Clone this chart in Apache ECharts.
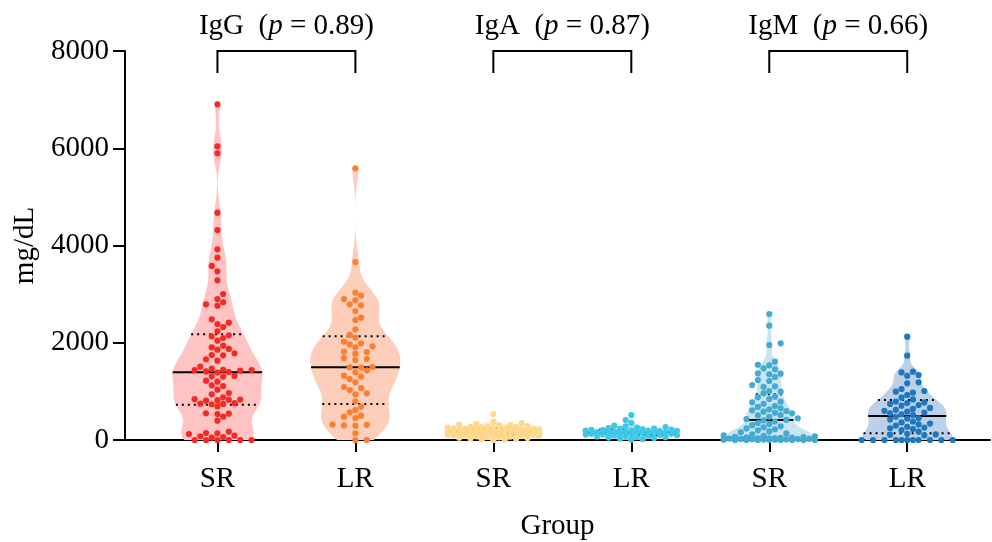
<!DOCTYPE html>
<html>
<head>
<meta charset="utf-8">
<script src="https://cdn.jsdelivr.net/npm/echarts@6/dist/echarts.min.js"></script>
<style>
  html, body { margin: 0; padding: 0; background: #fff; }
  #chart { width: 992px; height: 542px; }
</style>
</head>
<body>
<div id="chart"></div>
<script>
// categories along x (positions 1..6)
const groupLabels = ["SR", "LR", "SR", "LR", "SR", "LR"];
const groupPositions = [1, 2, 3, 4, 5, 6];
const isotypes = ["IgG", "IgA", "IgM"];
const pValues = ["0.89", "0.87", "0.66"];

// values (mg/dL)
const igG_SR = [6904, 6040, 5896, 4675, 4319, 3921, 3750, 3579, 3469, 3284, 3003, 2900, 2831, 2790, 2762,
  2482, 2413, 2386, 2324, 2235, 2153, 2132, 2098, 2043, 1940, 1906, 1872, 1858, 1783, 1748, 1741, 1659,
  1632, 1508, 1467, 1445, 1440, 1436, 1428, 1410, 1398, 1386, 1318, 1310, 1302, 1220, 1200, 1124, 1110,
  1035, 967, 940, 878, 840, 832, 828, 820, 808, 760, 748, 741, 735, 690, 549, 541, 535, 480, 397, 171,
  144, 137, 123, 89, 76, 62, 50, 0, 0, 0, 0, 0, 0];
const igG_LR = [5588, 3661, 3030, 2968, 2900, 2872, 2790, 2770, 2653, 2516, 2468, 2276, 2160, 2104, 2022,
  1988, 1968, 1927, 1906, 1816, 1810, 1775, 1686, 1666, 1645, 1501, 1496, 1487, 1433, 1392, 1323, 1302,
  1254, 1186, 1090, 1069, 1028, 960, 940, 796, 685, 617, 570, 500, 480, 452, 318, 312, 300, 294, 137, 0, 0];
const igA_SR = [535, 372, 345, 331, 318, 306, 297, 288, 281, 272, 268, 259, 253, 250, 242, 238, 236, 228,
  224, 221, 215, 212, 207, 204, 199, 197, 192, 188, 186, 181, 177, 175, 170, 166, 164, 159, 156, 152,
  150, 145, 141, 139, 134, 130, 127, 122, 118, 114, 109, 104, 99, 94, 88, 82, 77, 70, 63, 56, 48, 40,
  32, 24, 16, 8, 0];
const igA_LR = [514, 411, 350, 298, 281, 266, 254, 243, 236, 228, 221, 214, 208, 202, 197, 191, 186, 181,
  176, 171, 167, 162, 158, 153, 149, 145, 140, 136, 131, 127, 122, 117, 112, 106, 100, 94, 88, 81, 74,
  66, 58, 49, 40, 30, 18, 6];
const igM_SR = [2591, 2351, 1988, 1954, 1610, 1548, 1536, 1474, 1453, 1371, 1364, 1352, 1296, 1234, 1213,
  1131, 1104, 1092, 1008, 994, 960, 891, 880, 843, 788, 776, 745, 699, 680, 652, 630, 610, 596, 583, 560,
  549, 514, 505, 478, 446, 430, 415, 405, 380, 352, 331, 305, 281, 262, 238, 221, 198, 176, 157, 136,
  118, 98, 86, 74, 66, 62, 55, 51, 46, 41, 36, 33, 29, 24, 21, 18, 15, 12, 9, 6, 4, 2, 0, 0, 0, 0, 0, 0, 0];
const igM_LR = [2125, 1734, 1405, 1390, 1337, 1320, 1186, 1166, 1049, 1008, 994, 973, 925, 870, 835,
  790, 772, 760, 741, 720, 705, 660, 640, 620, 600, 585, 566, 548, 530, 512,
  478, 452, 440, 421, 380, 362, 338, 320, 296, 272, 255, 240, 226, 205, 172,
  128, 115, 108, 96, 0, 0, 0, 0, 0, 0, 0, 0, 0, 0, 0];

const groups = [igG_SR, igG_LR, igA_SR, igA_LR, igM_SR, igM_LR];
const fillColors = ["#FFC3C3", "#FDCFBA", "#FFF1D2", "#D2F0F8", "#C7E4EF", "#BCD0E9"];
const dotColors = ["#F42B24", "#FC7E2E", "#FFD98B", "#3CC8E6", "#45AAD2", "#1F77BE"];

const FONT = "Liberation Serif";
const FS = 29;
const HALF = 0.326; // max half width of a violin in x units
const BRACKET_TOP = 8000, BRACKET_LEG = 7550;

function quantile(s, p) {
  const n = s.length;
  const pos = (n + 1) * p - 1;
  const lo = Math.max(0, Math.min(n - 1, Math.floor(pos)));
  const hi = Math.min(n - 1, lo + 1);
  const f = Math.min(1, Math.max(0, pos - lo));
  return s[lo] + (s[hi] - s[lo]) * f;
}
function bandwidth(s) {
  const n = s.length;
  const mean = s.reduce((a, b) => a + b, 0) / n;
  const sd = Math.sqrt(s.reduce((a, b) => a + (b - mean) * (b - mean), 0) / (n - 1));
  const iqr = quantile(s, 0.75) - quantile(s, 0.25);
  return 0.9 * Math.min(sd, iqr / 1.34) * Math.pow(n, -0.2);
}

const stats = groups.map(vals => {
  const s = vals.slice().sort((a, b) => a - b);
  const h = bandwidth(s) * 0.65;
  const dens = v => s.reduce((acc, x) => acc + Math.exp(-0.5 * ((v - x) / h) * ((v - x) / h)), 0);
  const lo = s[0], hi = s[s.length - 1];
  const prof = [];
  for (let i = 0; i <= 160; i++) {
    const v = lo + (hi - lo) * i / 160;
    prof.push([v, dens(v)]);
  }
  const maxD = Math.max(...prof.map(p => p[1]));
  const q = [0.25, 0.5, 0.75].map(p => quantile(s, p));
  return { s, prof: prof.map(p => [p[0], p[1] / maxD]), q: q.map(v => [v, dens(v) / maxD]) };
});

function renderViolin(params, api) {
  const xc = api.value(0), i = xc - 1, st = stats[i];
  const right = st.prof.map(p => api.coord([xc + p[1] * HALF, p[0]]));
  const left = st.prof.map(p => api.coord([xc - p[1] * HALF, p[0]])).reverse();
  const children = [{ type: "polygon", shape: { points: right.concat(left) }, style: { fill: fillColors[i] } }];
  st.q.forEach((q, k) => {
    const a = api.coord([xc - q[1] * HALF, q[0]]);
    const b = api.coord([xc + q[1] * HALF, q[0]]);
    children.push({
      type: "line",
      shape: { x1: a[0], y1: a[1], x2: b[0], y2: b[1] },
      style: { stroke: "#000", lineWidth: 2, lineDash: k === 1 ? null : [2, 4] }
    });
  });
  return { type: "group", children };
}

// beeswarm in pixel space, dots on columns 5.7px apart
function renderDots(params, api) {
  const xc = api.value(0), i = xc - 1;
  const s = stats[i].s;
  const cx = api.coord([xc, 0])[0];
  const STEP = 5.7, D = 6.1, MAXW = 46;
  const placed = [];
  const children = [];
  s.forEach((v, n) => {
    const y = api.coord([xc, v])[1];
    let best = 0, bestGap = -1, found = false;
    for (let k = 0; k * STEP <= MAXW && !found; k++) {
      const offs = k === 0 ? [0] : (n % 2 ? [k * STEP, -k * STEP] : [-k * STEP, k * STEP]);
      for (const o of offs) {
        let gap = Infinity;
        for (const p of placed) {
          const dy = p[1] - y;
          if (Math.abs(dy) < D) {
            const dd = Math.hypot(p[0] - o, dy);
            if (dd < gap) gap = dd;
          }
        }
        if (gap >= D) { best = o; found = true; break; }
        if (gap > bestGap + 0.3) { bestGap = gap; best = o; }
      }
    }
    placed.push([best, y]);
    children.push({ type: "circle", shape: { cx: cx + best, cy: y, r: 3.1 }, style: { fill: dotColors[i] } });
  });
  return { type: "group", children };
}

function renderBracket(params, api) {
  const k = params.dataIndex;
  const a = api.coord([2 * k + 1, BRACKET_LEG]), b = api.coord([2 * k + 1, BRACKET_TOP]);
  const c = api.coord([2 * k + 2, BRACKET_TOP]), d = api.coord([2 * k + 2, BRACKET_LEG]);
  return {
    type: "group",
    children: [
      { type: "polyline", shape: { points: [a, b, c, d] }, style: { stroke: "#000", lineWidth: 2, fill: "none" } },
      {
        type: "text",
        style: {
          x: (b[0] + c[0]) / 2, y: b[1] - 25,
          text: "{n|" + isotypes[k] + "  (}{i|p}{n| = " + pValues[k] + ")}",
          rich: {
            n: { fontFamily: FONT, fontSize: FS, fill: "#000" },
            i: { fontFamily: FONT, fontSize: FS, fontStyle: "italic", fill: "#000" }
          },
          textAlign: "center", textVerticalAlign: "middle", align: "center", verticalAlign: "middle"
        }
      }
    ]
  };
}

const chart = echarts.init(document.getElementById("chart"));
chart.setOption({
  animation: false,
  grid: { left: 125, right: 2, top: 51, bottom: 102, outerBoundsMode: "none", containLabel: false },
  xAxis: {
    type: "value", min: 0.33, max: 6.6,
    name: "Group", nameLocation: "middle", nameGap: 72,
    nameTextStyle: { fontFamily: FONT, fontSize: FS, color: "#000" },
    splitLine: { show: false },
    axisLine: { lineStyle: { color: "#000", width: 2 } },
    axisTick: { customValues: groupPositions, length: 12, lineStyle: { color: "#000", width: 2 } },
    axisLabel: {
      customValues: groupPositions, margin: 25,
      formatter: v => groupLabels[Math.round(v) - 1] || "",
      fontFamily: FONT, fontSize: FS, color: "#000"
    }
  },
  yAxis: {
    type: "value", min: 0, max: 8000, interval: 2000,
    name: "mg/dL", nameLocation: "middle", nameGap: 84,
    nameTextStyle: { fontFamily: FONT, fontSize: FS, color: "#000" },
    splitLine: { show: false },
    axisLine: { show: true, lineStyle: { color: "#000", width: 2 } },
    axisTick: { show: true, length: 12, lineStyle: { color: "#000", width: 2 } },
    axisLabel: { margin: 16, formatter: v => String(v), fontFamily: FONT, fontSize: FS, color: "#000" }
  },
  series: [
    { type: "custom", z: 2, renderItem: renderViolin, data: groupPositions.map(x => [x, 0]) },
    { type: "custom", z: 3, renderItem: renderDots, data: groupPositions.map(x => [x, 0]) },
    { type: "custom", z: 3, renderItem: renderBracket, data: isotypes.map((_, k) => [2 * k + 1.5, BRACKET_TOP]) }
  ]
});
</script>
</body>
</html>
